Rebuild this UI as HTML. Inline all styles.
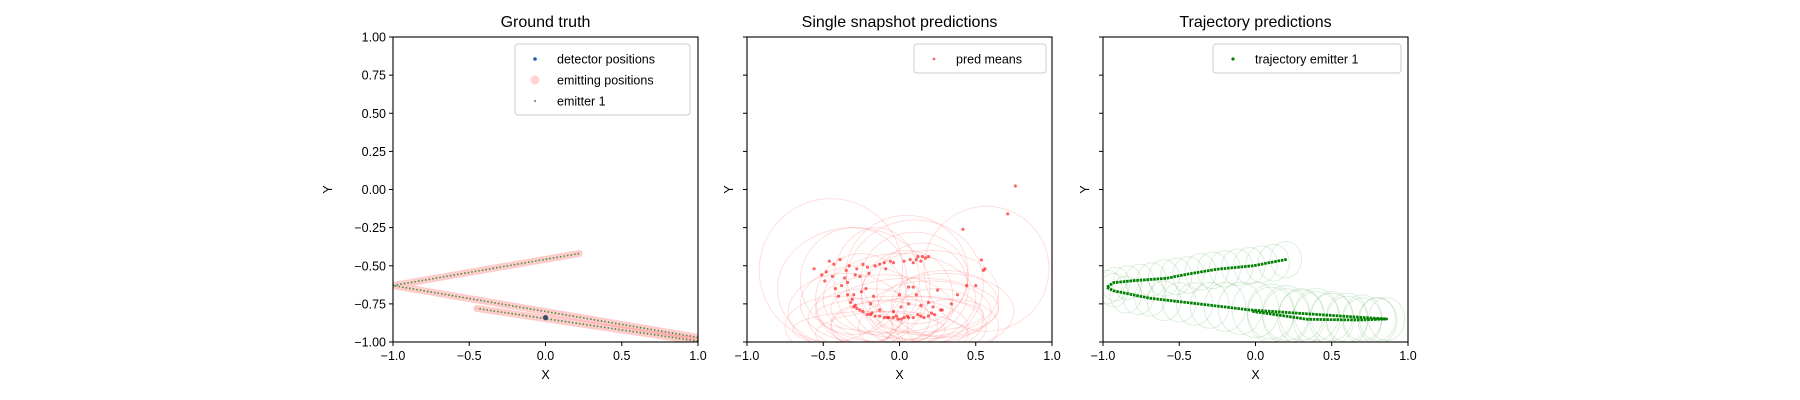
<!DOCTYPE html>
<html><head><meta charset="utf-8"><style>
html,body{margin:0;padding:0;background:#fff}
svg{display:block;font-family:"Liberation Sans","DejaVu Sans",sans-serif}
</style></head><body>
<svg id="fig" width="1800" height="400" viewBox="0 0 1800 400" xmlns="http://www.w3.org/2000/svg"></svg>
<script>
// ---- data ----
const axesTitles = ["Ground truth","Single snapshot predictions","Trajectory predictions"];
const xTicks = [-1,-0.5,0,0.5,1];
const xTickLabels = ["\u22121.0","\u22120.5","0.0","0.5","1.0"];
const yTicks = [1,0.75,0.5,0.25,0,-0.25,-0.5,-0.75,-1];
const yTickLabels = ["1.00","0.75","0.50","0.25","0.00","\u22120.25","\u22120.50","\u22120.75","\u22121.00"];
// ground truth emitter path waypoints
const gtX = [0.22,-1.0,1.0,1.0,-0.45];
const gtY = [-0.42,-0.63,-0.97,-0.995,-0.78];
const detX = [0.0];
const detY = [-0.84];
// snapshot pred means
const predX = [0.76,0.71,0.416,0.537,0.56,0.55,0.44,0.50,0.38,0.34,0.25,
 -0.56,-0.46,-0.39,-0.33,-0.28,-0.21,-0.16,-0.10,-0.04,0.03,0.07,0.11,0.15,0.19,0.14,
 -0.51,-0.49,-0.44,-0.42,-0.38,-0.36,-0.29,-0.26,-0.34,-0.40,-0.30,-0.22,-0.25,-0.17,0.00,0.06,0.09,0.11,0.06,0.14,0.19,0.22,0.27,-0.13,-0.04,0.01,-0.19,
 -0.34,-0.32,-0.30,-0.26,-0.21,-0.16,-0.10,-0.04,0.03,0.09,0.14,0.19,0.23,0.28,-0.28,-0.19,-0.07,-0.01,0.06,
 -0.31,-0.29,-0.24,-0.18,-0.13,-0.08,-0.02,0.01,0.05,0.12,0.16,0.21,-0.48,-0.43,-0.35,-0.24,-0.13,-0.06,0.12,0.17,0.09,-0.20,-0.09];
const predY = [0.023,-0.16,-0.261,-0.462,-0.52,-0.53,-0.63,-0.63,-0.69,-0.75,-0.66,
 -0.52,-0.47,-0.46,-0.50,-0.52,-0.51,-0.50,-0.48,-0.48,-0.47,-0.46,-0.46,-0.44,-0.44,-0.47,
 -0.56,-0.60,-0.57,-0.65,-0.63,-0.58,-0.56,-0.57,-0.61,-0.70,-0.69,-0.65,-0.67,-0.70,-0.69,-0.64,-0.64,-0.69,-0.75,-0.76,-0.74,-0.77,-0.79,-0.79,-0.80,-0.77,-0.75,
 -0.69,-0.74,-0.77,-0.79,-0.82,-0.83,-0.84,-0.84,-0.84,-0.84,-0.83,-0.83,-0.82,-0.79,-0.78,-0.82,-0.84,-0.85,-0.84,
 -0.72,-0.76,-0.80,-0.81,-0.83,-0.84,-0.83,-0.85,-0.83,-0.82,-0.84,-0.81,-0.54,-0.49,-0.53,-0.49,-0.49,-0.47,-0.44,-0.45,-0.48,-0.55,-0.52];
// snapshot uncertainty ellipses
const ellCX = [-0.45,0.57,-0.3,0.1,-0.1,0.2,-0.2,0.0,0.3,-0.35,0.05,-0.05,0.15,-0.25,0.25,0.1,-0.15,0.0,0.35,-0.4,
 -0.25,0.0,0.2,-0.1,0.1,-0.3,0.05,0.3,-0.2,0.15];
const ellCY = [-0.53,-0.52,-0.65,-0.62,-0.78,-0.8,-0.85,-0.9,-0.75,-0.8,-0.7,-0.95,-0.9,-0.72,-0.85,-0.58,-0.6,-0.82,-0.9,-0.9,
 -0.75,-0.72,-0.68,-0.88,-0.78,-0.6,-0.55,-0.8,-0.92,-0.65];
const ellRX = [0.47,0.41,0.5,0.45,0.45,0.4,0.4,0.45,0.35,0.38,0.3,0.5,0.42,0.3,0.3,0.35,0.28,0.55,0.3,0.35,
 0.4,0.5,0.45,0.35,0.55,0.35,0.4,0.45,0.5,0.3];
const ellRY = [0.47,0.41,0.4,0.42,0.22,0.2,0.2,0.18,0.22,0.25,0.3,0.15,0.2,0.3,0.2,0.3,0.35,0.12,0.18,0.2,
 0.25,0.3,0.28,0.15,0.2,0.35,0.38,0.25,0.12,0.3];
// trajectory emitter 1 path
const trX = [0.205,-0.014,-0.254,-0.451,-0.582,-0.801,-0.932,-0.976,-0.932,-0.692,-0.364,-0.036,0.292,0.685,0.86,0.685,0.336,0.073,-0.02];
const trY = [-0.458,-0.50,-0.523,-0.556,-0.582,-0.598,-0.611,-0.641,-0.664,-0.713,-0.751,-0.79,-0.812,-0.838,-0.849,-0.856,-0.851,-0.812,-0.80];
// trajectory uncertainty circles
const tcX = [0.2,0.12,0.04,-0.04,-0.12,-0.2,-0.28,-0.36,-0.44,-0.52,-0.6,-0.68,-0.76,-0.84,-0.92,-0.97,-0.93,-0.85,-0.77,-0.69,-0.6,-0.5,-0.4,-0.3,-0.2,-0.1,0.0,0.1,0.2,0.3,0.4,0.5,0.6,0.7,0.8,0.86,0.8,0.7,0.6,0.5,0.4,0.3,0.2,0.1];
const tcY = [-0.46,-0.48,-0.49,-0.5,-0.51,-0.52,-0.53,-0.54,-0.56,-0.57,-0.58,-0.59,-0.6,-0.61,-0.62,-0.64,-0.66,-0.69,-0.7,-0.71,-0.73,-0.74,-0.75,-0.76,-0.77,-0.78,-0.79,-0.8,-0.81,-0.82,-0.82,-0.83,-0.84,-0.84,-0.85,-0.85,-0.86,-0.86,-0.86,-0.85,-0.85,-0.84,-0.83,-0.82];
const tcR = [0.12,0.12,0.12,0.12,0.12,0.12,0.12,0.12,0.12,0.12,0.12,0.11,0.11,0.11,0.11,0.11,0.11,0.12,0.12,0.12,0.13,0.13,0.14,0.15,0.16,0.17,0.18,0.18,0.18,0.17,0.17,0.16,0.16,0.15,0.14,0.14,0.15,0.15,0.16,0.17,0.18,0.18,0.18,0.18];

// ---- layout ----
const NS="http://www.w3.org/2000/svg";
const fig=document.getElementById('fig');
const axLeft=[393,747,1103], axTop=37, axSize=305;
function mk(tag,attrs,parent){const e=document.createElementNS(NS,tag);for(const k in attrs)e.setAttribute(k,attrs[k]);(parent||fig).appendChild(e);return e;}
function sx(i,v){return axLeft[i]+(v+1)/2*axSize;}
function sy(v){return axTop+(1-v)/2*axSize;}
const k=axSize/2;

const defs=mk('defs',{});
for(let i=0;i<3;i++){
  const cp=mk('clipPath',{id:'clip'+i},defs);
  mk('rect',{x:axLeft[i],y:axTop,width:axSize,height:axSize},cp);
}

for(let i=0;i<3;i++){
  const g=mk('g',{'clip-path':'url(#clip'+i+')'});
  
  
  if(i===0){
    const pts=gtX.map((x,j)=>sx(0,x)+','+sy(gtY[j]));
    const a=pts.slice(0,3).join(' '), b=pts.slice(3).join(' ');
    [a,b].forEach((p,j)=>{
      const pl=mk('polyline',{points:p,fill:'none',stroke:'#ff8080','stroke-opacity':0.4,'stroke-width':7,'stroke-linecap':'round','stroke-linejoin':'round'},g);
      
      
      const gl=mk('polyline',{points:p,fill:'none',stroke:'#3a8a3a','stroke-width':1.6,'stroke-dasharray':'1.4 2.2'},g);
      
      
    });
    detX.forEach((x,j)=>{
      const c=mk('circle',{cx:sx(0,x),cy:sy(detY[j]),r:2.6,fill:'#3b4a6b'},g);
      
      
    });
  } else if(i===1){
    ellCX.forEach((x,j)=>{
      const e=mk('ellipse',{cx:sx(1,x),cy:sy(ellCY[j]),rx:ellRX[j]*k,ry:ellRY[j]*k,fill:'none',stroke:'#ff0000','stroke-opacity':0.13,'stroke-width':1},g);
      
      
    });
    predX.forEach((x,j)=>{
      const c=mk('circle',{cx:sx(1,x),cy:sy(predY[j]),r:1.6,fill:'#ff0000','fill-opacity':0.6},g);
      
      
    });
  } else {
    tcX.forEach((x,j)=>{
      const e=mk('ellipse',{cx:sx(2,x),cy:sy(tcY[j]),rx:tcR[j]*k*0.85,ry:tcR[j]*k,fill:'none',stroke:'#008000','stroke-opacity':0.13,'stroke-width':1},g);
      
      
    });
    const pl=mk('polyline',{points:trX.map((x,j)=>sx(2,x)+','+sy(trY[j])).join(' '),fill:'none',stroke:'#008000','stroke-width':2.8,'stroke-dasharray':'2.6 0.8','stroke-linejoin':'round'},g);
    
    
  }
  const fr=mk('rect',{x:axLeft[i],y:axTop,width:axSize,height:axSize,fill:'none',stroke:'#000','stroke-width':1.1});
  
  
  const t=mk('text',{x:axLeft[i]+axSize/2,y:axTop-10,'text-anchor':'middle','font-size':16,fill:'#000'});
  t.textContent=axesTitles[i];
  
  
  xTicks.forEach((v,j)=>{
    const x=sx(i,v);
    mk('line',{x1:x,x2:x,y1:axTop+axSize,y2:axTop+axSize+4,stroke:'#000','stroke-width':1});
    const tl=mk('text',{x:x,y:axTop+axSize+18,'text-anchor':'middle','font-size':12.5,fill:'#000'});
    tl.textContent=xTickLabels[j];
    
    
  });
  const xl=mk('text',{x:axLeft[i]+axSize/2,y:axTop+axSize+37,'text-anchor':'middle','font-size':12.5,fill:'#000'});
  xl.textContent='X';
  
  
  yTicks.forEach((v,j)=>{
    const y=sy(v);
    mk('line',{x1:axLeft[i]-4,x2:axLeft[i],y1:y,y2:y,stroke:'#000','stroke-width':1});
    if(i===0){
      const tl=mk('text',{x:axLeft[i]-7,y:y+4.5,'text-anchor':'end','font-size':12.5,fill:'#000'});
      tl.textContent=yTickLabels[j];
      
      
    }
  });
  const yx=i===0?axLeft[i]-61:axLeft[i]-14;
  const yl=mk('text',{x:yx,y:sy(0),'text-anchor':'middle','font-size':12.5,fill:'#000',transform:'rotate(-90 '+yx+' '+sy(0)+')'});
  yl.textContent='Y';
  
  
}

function legend(x,y,w,entries,name){
  const g=mk('g',{});
  
  
  mk('rect',{x:x,y:y,width:w,height:8+entries.length*21,rx:3,fill:'#fff','fill-opacity':0.85,stroke:'#ccc','stroke-width':1},g);
  entries.forEach((en,j)=>{
    const cy=y+15+j*21;
    mk('circle',{cx:x+20,cy:cy,r:en.r,fill:en.c,'fill-opacity':en.o},g);
    const t=mk('text',{x:x+42,y:cy+4.5,'font-size':12.5,fill:'#000'},g);
    t.textContent=en.t;
    
    
  });
}
legend(515,44,175,[{t:'detector positions',c:'#1f5fa8',r:1.8,o:1},{t:'emitting positions',c:'#ff8080',r:4.5,o:0.35},{t:'emitter 1',c:'#3a8a3a',r:1.2,o:0.7}],'legend-ground-truth');
legend(914,44,132,[{t:'pred means',c:'#ff0000',r:1.4,o:0.6}],'legend-snapshot');
legend(1213,44,188,[{t:'trajectory emitter 1',c:'#008000',r:1.6,o:1}],'legend-trajectory');
</script>
</body></html>
